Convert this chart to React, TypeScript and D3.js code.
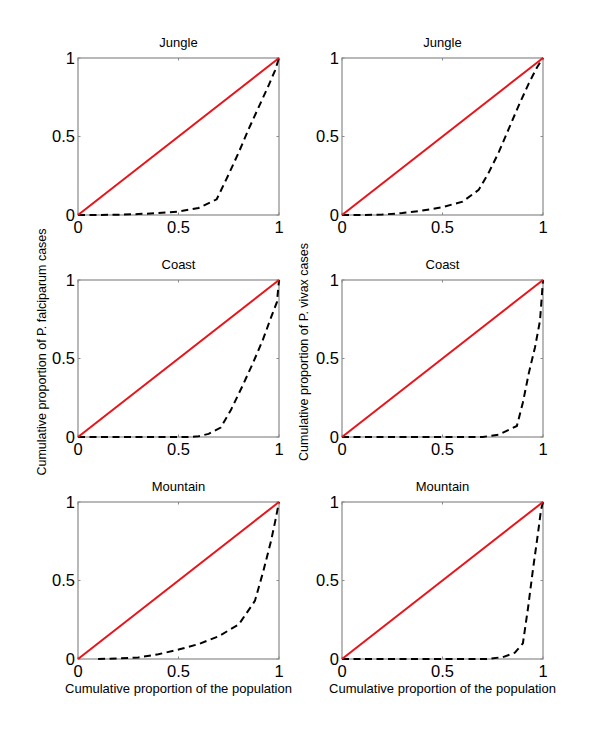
import React from "react";
import * as d3 from "d3";

// ---------- data ----------
const panelTitles = ["Jungle", "Jungle", "Coast", "Coast", "Mountain", "Mountain"];

const jungleFalcX = [0, 0.1, 0.2, 0.3, 0.4, 0.5, 0.6, 0.69, 0.75, 0.8, 0.85, 0.9, 0.95, 0.98, 1];
const jungleFalcY = [0, 0, 0.002, 0.006, 0.012, 0.022, 0.045, 0.1, 0.26, 0.4, 0.55, 0.69, 0.83, 0.92, 1];

const jungleVivX = [0, 0.1, 0.2, 0.3, 0.4, 0.5, 0.6, 0.68, 0.73, 0.78, 0.83, 0.88, 0.93, 0.97, 1];
const jungleVivY = [0, 0, 0.003, 0.012, 0.028, 0.05, 0.085, 0.16, 0.27, 0.4, 0.55, 0.7, 0.84, 0.94, 1];

const coastFalcX = [0, 0.55, 0.6, 0.65, 0.71, 0.76, 0.82, 0.87, 0.92, 0.96, 0.99, 1];
const coastFalcY = [0, 0, 0.005, 0.02, 0.06, 0.17, 0.33, 0.47, 0.62, 0.76, 0.86, 1];

const coastVivX = [0, 0.7, 0.78, 0.87, 0.9, 0.93, 0.96, 0.985, 1];
const coastVivY = [0, 0, 0.015, 0.07, 0.22, 0.41, 0.57, 0.74, 1];

const mountFalcX = [0.1, 0.2, 0.3, 0.4, 0.5, 0.6, 0.7, 0.8, 0.88, 0.92, 0.96, 0.98, 1];
const mountFalcY = [0, 0.003, 0.01, 0.03, 0.06, 0.095, 0.145, 0.22, 0.37, 0.55, 0.75, 0.87, 1];

const mountVivX = [0, 0.72, 0.8, 0.86, 0.9, 0.925, 0.95, 0.975, 0.99, 1];
const mountVivY = [0, 0, 0.012, 0.04, 0.1, 0.32, 0.57, 0.8, 0.95, 1];

const equalityX = [0, 1];
const equalityY = [0, 1];

const tickValues = [0, 0.5, 1];
const tickLabels = ["0", "0.5", "1"];

const yLabelLeft = "Cumulative proportion of P. falciparum cases";
const yLabelRight = "Cumulative proportion of P. vivax cases";
const xLabel = "Cumulative proportion of the population";

const curvesX = [jungleFalcX, jungleVivX, coastFalcX, coastVivX, mountFalcX, mountVivX];
const curvesY = [jungleFalcY, jungleVivY, coastFalcY, coastVivY, mountFalcY, mountVivY];

// ---------- layout ----------
const W = 600;
const H = 742;
const colX = [78, 342];
const rowY = [58, 280, 502];
const PW = 201;
const PH = 157;
const FONT = "'Liberation Sans', Arial, Helvetica, sans-serif";

function Panel({ idx }: { idx: number }) {
  const col = idx % 2;
  const row = Math.floor(idx / 2);
  const x0 = colX[col];
  const y0 = rowY[row];
  const x = d3.scaleLinear().domain([0, 1]).range([x0, x0 + PW]);
  const y = d3.scaleLinear().domain([0, 1]).range([y0 + PH, y0]);
  const line = d3
    .line<[number, number]>()
    .x((d) => x(d[0]))
    .y((d) => y(d[1]));
  const eq = line(equalityX.map((v, i) => [v, equalityY[i]] as [number, number])) || "";
  const cx = curvesX[idx];
  const cy = curvesY[idx];
  const curve = line(cx.map((v, i) => [v, cy[i]] as [number, number])) || "";
  const tl = 2.5;
  return (
    <g>
      <rect x={x0} y={y0} width={PW} height={PH} fill="white" stroke="#8a8a8a" strokeWidth={1.2} />
      {tickValues.map((t, i) => (
        <g key={"t" + i} stroke="#8a8a8a" strokeWidth={1}>
          <line x1={x(t)} x2={x(t)} y1={y0 + PH} y2={y0 + PH - tl} />
          <line x1={x(t)} x2={x(t)} y1={y0} y2={y0 + tl} />
          <line x1={x0} x2={x0 + tl} y1={y(t)} y2={y(t)} />
          <line x1={x0 + PW} x2={x0 + PW - tl} y1={y(t)} y2={y(t)} />
        </g>
      ))}
      <path d={curve} fill="none" stroke="#000" strokeWidth={2} strokeDasharray="7,4.5" />
      <path d={eq} fill="none" stroke="#e8141a" strokeWidth={2} />
      {tickValues.map((t, i) => (
        <text
          key={"yl" + i}
          x={x0 - 3}
          y={y(t)}
          dy="0.36em"
          textAnchor="end"
          fontFamily={FONT}
          fontSize={16.5}
          fill="#000"
        >
          {tickLabels[i]}
        </text>
      ))}
      {tickValues.map((t, i) => (
        <text
          key={"xl" + i}
          x={x(t)}
          y={y0 + PH + 18}
          textAnchor="middle"
          fontFamily={FONT}
          fontSize={16.5}
          fill="#000"
        >
          {tickLabels[i]}
        </text>
      ))}
      <text
        x={x0 + PW / 2}
        y={y0 - 11.5}
        textAnchor="middle"
        fontFamily={FONT}
        fontSize={13}
        fill="#000"
      >
        {panelTitles[idx]}
      </text>
    </g>
  );
}

export default function App() {
  return (
    <svg
      width={W}
      height={H}
      viewBox={`0 0 ${W} ${H}`}
      style={{ position: "absolute", left: 0, top: 0, background: "white" }}
    >
      <rect x={0} y={0} width={W} height={H} fill="white" />
      {panelTitles.map((_, i) => (
        <Panel key={i} idx={i} />
      ))}
      <text
        transform={`translate(46, 352) rotate(-90)`}
        textAnchor="middle"
        fontFamily={FONT}
        fontSize={12.5}
        fill="#000"
      >
        {yLabelLeft}
      </text>
      <text
        transform={`translate(308, 352) rotate(-90)`}
        textAnchor="middle"
        fontFamily={FONT}
        fontSize={12.5}
        fill="#000"
      >
        {yLabelRight}
      </text>
      <text
        x={colX[0] + PW / 2}
        y={693}
        textAnchor="middle"
        fontFamily={FONT}
        fontSize={13}
        fill="#000"
      >
        {xLabel}
      </text>
      <text
        x={colX[1] + PW / 2}
        y={693}
        textAnchor="middle"
        fontFamily={FONT}
        fontSize={13}
        fill="#000"
      >
        {xLabel}
      </text>
    </svg>
  );
}
